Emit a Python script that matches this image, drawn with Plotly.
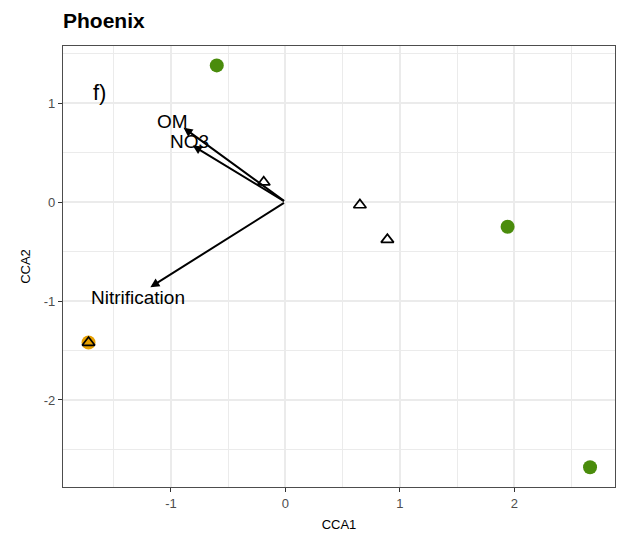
import plotly.graph_objects as go

# Site scores
site_x = [-0.60, 1.94, 2.66, -1.72]
site_y = [1.38, -0.25, -2.68, -1.42]
site_colors = ["#4a8c0c", "#4a8c0c", "#4a8c0c", "#e69f00"]

# Species / triangle scores
tri_x = [-0.19, 0.65, 0.89, -1.72]
tri_y = [0.20, -0.03, -0.38, -1.42]

# Environmental vectors
env_names = ["OM", "NO3", "Nitrification"]
env_x = [-0.89, -0.81, -1.18]
env_y = [0.75, 0.57, -0.86]
label_x = [-0.99, -0.84, -1.29]
label_y = [0.81, 0.61, -0.96]

x_ticks = [-1, 0, 1, 2]
x_ticklabels = ["-1", "0", "1", "2"]
y_ticks = [-2, -1, 0, 1]
y_ticklabels = ["-2", "-1", "0", "1"]

FONT = "Liberation Sans"

fig = go.Figure()

fig.add_trace(go.Scatter(
    x=site_x, y=site_y, mode="markers",
    marker=dict(size=14, color=site_colors, line=dict(width=0)),
    showlegend=False, hoverinfo="skip"))

fig.add_trace(go.Scatter(
    x=tri_x, y=tri_y, mode="markers",
    marker=dict(size=11, symbol="triangle-up-open", color="black", line=dict(width=1.7, color="black")),
    showlegend=False, hoverinfo="skip"))

for name, ex, ey, lx, ly in zip(env_names, env_x, env_y, label_x, label_y):
    fig.add_annotation(x=ex, y=ey, ax=0, ay=0, xref="x", yref="y", axref="x", ayref="y",
                       showarrow=True, arrowhead=2, arrowsize=0.9, arrowwidth=2,
                       arrowcolor="black", text="")
    fig.add_annotation(x=lx, y=ly, xref="x", yref="y", text=name, showarrow=False,
                       font=dict(size=19, color="black", family=FONT))

fig.add_annotation(x=-1.62, y=1.11, xref="x", yref="y", text="f)", showarrow=False,
                   font=dict(size=22, color="black", family=FONT))

axis_common = dict(
    showgrid=True, gridcolor="#ebebeb", gridwidth=1.8, zeroline=False,
    showline=True, mirror=True, linecolor="#4d4d4d", linewidth=1.4,
    ticks="outside", ticklen=4, tickwidth=1.4, tickcolor="#333333",
    tickfont=dict(size=13, color="#4d4d4d", family=FONT),
    minor=dict(dtick=0.5, showgrid=True, gridcolor="#ebebeb", gridwidth=1.4, ticklen=0),
)

fig.update_layout(
    width=620, height=539,
    margin=dict(l=63, r=5, t=46, b=52),
    paper_bgcolor="white", plot_bgcolor="white",
    title=dict(text="<b>Phoenix</b>", x=63/620, xanchor="left", y=1-21/539, yanchor="middle",
               font=dict(size=21, color="black", family=FONT)),
    xaxis=dict(range=[-1.943, 2.878], tickvals=x_ticks, ticktext=x_ticklabels, tick0=0, dtick=1,
               title=dict(text="CCA1", font=dict(size=13, color="black", family=FONT), standoff=10),
               **axis_common),
    yaxis=dict(range=[-2.879, 1.576], tickvals=y_ticks, ticktext=y_ticklabels, tick0=0, dtick=1,
               title=dict(text="CCA2", font=dict(size=13, color="black", family=FONT), standoff=10),
               **axis_common),
)

fig.write_html("out.html")
